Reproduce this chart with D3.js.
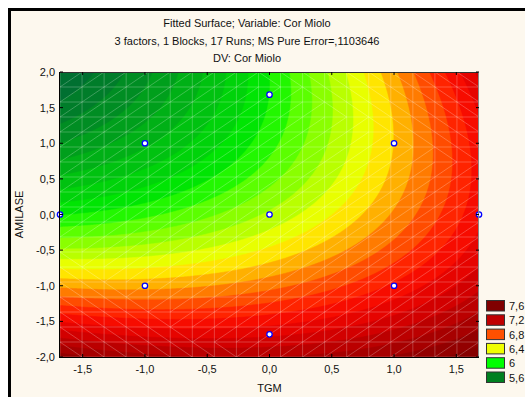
<!DOCTYPE html>
<html><head><meta charset="utf-8">
<script src="https://cdn.jsdelivr.net/npm/d3@7"></script>
<style>
html,body{margin:0;padding:0;background:#fff;}
svg{display:block;font-family:"Liberation Sans",Arial,sans-serif;}
</style></head>
<body>
<svg id="chart" width="525" height="397"></svg>
<script>
// ---- data ----
const titleLines = ["Fitted Surface; Variable: Cor Miolo",
                    "3 factors, 1 Blocks, 17 Runs; MS Pure Error=,1103646",
                    "DV: Cor Miolo"];
const xLabel = "TGM";
const yLabel = "AMILASE";
const xDomain = [-1.682, 1.682];
const yDomain = [-2, 2];
const xTicks = [-1.5, -1, -0.5, 0, 0.5, 1, 1.5];
const yTicks = [-2, -1.5, -1, -0.5, 0, 0.5, 1, 1.5, 2];
// fitted quadratic model: b0 + b1*x + b2*y + b11*x^2 + b22*y^2 + b12*x*y
const coefNames = ["b0", "b1", "b2", "b11", "b22", "b12"];
const coefValues = [6.22, 0.32, -0.35, 0.075, 0.095, 0.142];
// design points (TGM, AMILASE)
const designX = [-1, 1, -1, 1, -1.682, 1.682, 0, 0, 0];
const designY = [-1, -1, 1, 1, 0, 0, -1.682, 1.682, 0];
// legend
const legendLevels = [7.6, 7.2, 6.8, 6.4, 6, 5.6];
const legendColors = ["#800000", "#c00000", "#ff5000", "#f0ff00", "#00ff00", "#008020"];
// surface colour ramp
const rampValues = [5.0, 5.3, 5.9, 6.0, 6.4, 6.7, 6.9, 7.1, 7.3, 7.5, 7.8];
const rampColors = ["#005c3c", "#008426", "#00ee00", "#44ff00", "#ffff00", "#ff6000", "#ff1000", "#dd0000", "#b00000", "#8a0000", "#700000"];
const contourLevels = d3.range(45, 85).map(d => d / 10);
const meshDivisions = 19;

// ---- layout ----
const svg = d3.select("#chart");
const P = {l: 60, r: 479, t: 72, b: 357};
const x = d3.scaleLinear().domain(xDomain).range([P.l, P.r]);
const y = d3.scaleLinear().domain(yDomain).range([P.b, P.t]);
const color = d3.scaleLinear().domain(rampValues).range(rampColors).interpolate(d3.interpolateRgb).clamp(true);
const f = (a, b) => coefValues[0] + coefValues[1]*a + coefValues[2]*b + coefValues[3]*a*a + coefValues[4]*b*b + coefValues[5]*a*b;
const fmt = v => d3.format(".1f")(v).replace(".", ",").replace("−", "-");

// frame
svg.append("rect").attr("x", 9.5).attr("y", 9.5).attr("width", 700).attr("height", 600)
  .attr("fill", "#fdf8ee").attr("stroke", "#000").attr("stroke-width", 3);

// titles
svg.selectAll("text.title").data(titleLines).join("text").attr("class", "title")
  .attr("x", 247).attr("y", (d, i) => 27 + i * 17.5).attr("text-anchor", "middle")
  .attr("font-size", 11).attr("fill", "#111").text(d => d);

// contours
svg.append("clipPath").attr("id", "clip").append("rect")
  .attr("x", P.l).attr("y", P.t).attr("width", P.r - P.l).attr("height", P.b - P.t);
const g = svg.append("g").attr("clip-path", "url(#clip)");
const nx = 300, ny = 220;
const vals = new Array(nx * ny);
for (let j = 0; j < ny; j++) for (let i = 0; i < nx; i++) {
  const xv = xDomain[0] + (i + 0.5) / nx * (xDomain[1] - xDomain[0]);
  const yv = yDomain[1] - (j + 0.5) / ny * (yDomain[1] - yDomain[0]);
  vals[j * nx + i] = f(xv, yv);
}
const contours = d3.contours().size([nx, ny]).thresholds(contourLevels)(vals);
const proj = d3.geoTransform({point: function(px, py) {
  this.stream.point(P.l + px / nx * (P.r - P.l), P.t + py / ny * (P.b - P.t));
}});
const path = d3.geoPath(proj);
g.selectAll("path.band").data(contours).join("path").attr("class", "band")
  .attr("d", path).attr("fill", d => color(d.value + 0.05)).attr("stroke", d => color(d.value + 0.05)).attr("stroke-width", 0.5);

// mesh
const mx = d3.range(meshDivisions + 1).map(i => xDomain[0] + i * (xDomain[1] - xDomain[0]) / meshDivisions);
const my = d3.range(meshDivisions + 1).map(j => yDomain[0] + j * (yDomain[1] - yDomain[0]) / meshDivisions);
const mesh = g.append("g").attr("stroke", "rgba(255,255,255,0.24)").attr("stroke-width", 1);
mx.forEach(v => mesh.append("line").attr("x1", x(v)).attr("x2", x(v)).attr("y1", P.t).attr("y2", P.b));
my.forEach(v => mesh.append("line").attr("y1", y(v)).attr("y2", y(v)).attr("x1", P.l).attr("x2", P.r));
for (let i = 0; i < meshDivisions; i++) for (let j = 0; j < meshDivisions; j++) {
  const a = mx[i], b = mx[i + 1], c = my[j], d = my[j + 1];
  const d1 = Math.abs(f(a, c) - f(b, d)), d2 = Math.abs(f(b, c) - f(a, d));
  if (d1 <= d2) mesh.append("line").attr("x1", x(a)).attr("y1", y(c)).attr("x2", x(b)).attr("y2", y(d));
  else mesh.append("line").attr("x1", x(b)).attr("y1", y(c)).attr("x2", x(a)).attr("y2", y(d));
}

// design points
svg.append("g").selectAll("circle").data(designX).join("circle")
  .attr("cx", (d) => x(d)).attr("cy", (d, i) => y(designY[i])).attr("r", 2.7)
  .attr("fill", "#fff").attr("stroke", "#0000ff").attr("stroke-width", 1.3);

// axes border
const ax = svg.append("g");
ax.append("line").attr("x1", P.l).attr("x2", P.r).attr("y1", P.t + 0.5).attr("y2", P.t + 0.5).attr("stroke", "#333");
ax.append("line").attr("x1", P.r - 0.5).attr("x2", P.r - 0.5).attr("y1", P.t).attr("y2", P.b).attr("stroke", "#888");
ax.append("line").attr("x1", P.l).attr("x2", P.r).attr("y1", P.b + 0.5).attr("y2", P.b + 0.5).attr("stroke", "#000");
ax.append("line").attr("x1", P.l - 0.5).attr("x2", P.l - 0.5).attr("y1", P.t).attr("y2", P.b + 1).attr("stroke", "#000");
const tl = 3;
xTicks.forEach(v => {
  ax.append("line").attr("x1", x(v)).attr("x2", x(v)).attr("y1", P.b).attr("y2", P.b - tl).attr("stroke", "#000");
  ax.append("line").attr("x1", x(v)).attr("x2", x(v)).attr("y1", P.t).attr("y2", P.t + tl).attr("stroke", "#000");
  ax.append("text").attr("x", x(v)).attr("y", 373).attr("text-anchor", "middle").attr("font-size", 11).attr("fill", "#111").text(fmt(v));
});
yTicks.forEach(v => {
  ax.append("line").attr("y1", y(v)).attr("y2", y(v)).attr("x1", P.l).attr("x2", P.l + tl).attr("stroke", "#000");
  ax.append("line").attr("y1", y(v)).attr("y2", y(v)).attr("x1", P.r).attr("x2", P.r - tl).attr("stroke", "#000");
  ax.append("text").attr("x", 55).attr("y", y(v) + 4).attr("text-anchor", "end").attr("font-size", 11).attr("fill", "#111").text(fmt(v));
});
svg.append("text").attr("x", (P.l + P.r) / 2).attr("y", 392).attr("text-anchor", "middle").attr("font-size", 11).attr("fill", "#111").text(xLabel);
svg.append("text").attr("transform", `translate(23,${(P.t + P.b) / 2}) rotate(-90)`).attr("text-anchor", "middle")
  .attr("font-size", 11).attr("fill", "#111").text(yLabel);

// legend
const lg = svg.append("g");
legendLevels.forEach((v, i) => {
  lg.append("rect").attr("x", 486.5).attr("y", 300.5 + i * 14.3).attr("width", 18).attr("height", 10.5)
    .attr("fill", legendColors[i]).attr("stroke", "#333");
  lg.append("text").attr("x", 509).attr("y", 310 + i * 14.3).attr("font-size", 11).attr("fill", "#111")
    .text(String(v).replace(".", ","));
});
</script>
</body></html>
